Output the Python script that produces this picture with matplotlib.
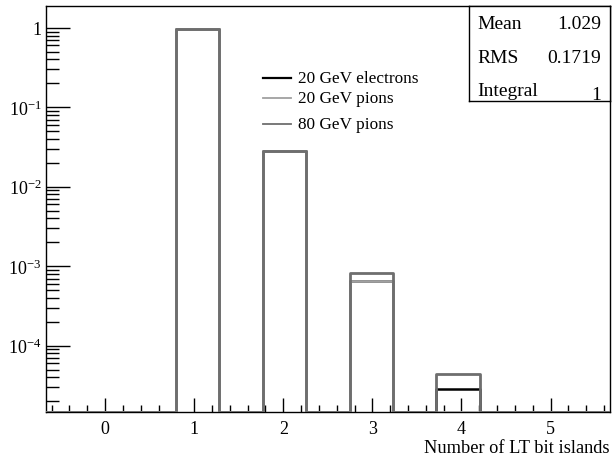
import matplotlib.pyplot as plt
import numpy as np

plt.rcParams['font.family'] = ['Liberation Serif']
plt.rcParams['mathtext.default'] = 'regular'

# 13 bins over the island-count range
edges = np.linspace(-2/3, 17/3, 14)
bins_used = [3, 5, 7, 9]          # bins holding 1, 2, 3, 4 islands

labels = ['20 GeV electrons', '20 GeV pions', '80 GeV pions']
electrons = [0.97, 0.028, 6.6e-4, 2.84e-5]
pions20 = [0.97, 0.028, 6.6e-4, 0.0]
pions80 = [0.97, 0.028, 8.2e-4, 4.4e-5]
colors = ['black', '#a0a0a0', '#6e6e6e']

ymin, ymax = 1.46e-5, 1.89

fig = plt.figure(figsize=(6.13, 4.60), dpi=100)
ax = fig.add_axes([0.0745, 0.102, 0.9205, 0.883])

def fill_bins(vals):
    h = np.zeros(len(edges) - 1)
    for b, v in zip(bins_used, vals):
        h[b] = v
    return h

draw_order = [(electrons, 0), (pions20, 1), (pions80, 2)]
for vals, k in draw_order:
    h = fill_bins(vals)
    h = np.where(h > 0, h, ymin)
    ax.step(edges, np.append(h, ymin), where='post', color=colors[k],
            lw=2.0 if k else 1.8, zorder=3)

ax.set_yscale('log')
ax.set_xlim(edges[0], edges[-1])
ax.set_ylim(ymin, ymax)

ax.set_xticks(range(6))
ax.set_xticks(np.arange(-0.6, 5.7, 0.2), minor=True)
ax.set_yticks([1e-4, 1e-3, 1e-2, 1e-1, 1])
ax.set_yticklabels([r'$10^{-4}$', r'$10^{-3}$', r'$10^{-2}$', r'$10^{-1}$', '1'])
ax.tick_params(axis='both', which='both', direction='in', top=False, right=False,
               labelsize=13, width=1.0)
ax.tick_params(axis='x', which='major', length=10, pad=6)
ax.tick_params(axis='x', which='minor', length=5)
ax.tick_params(axis='y', which='major', length=17, pad=3)
ax.tick_params(axis='y', which='minor', length=9)
for s in ax.spines.values():
    s.set_linewidth(1.0)
    s.set_zorder(2)

ax.set_xlabel('Number of LT bit islands', fontsize=13.2, loc='right', labelpad=1)

# legend, placed by hand
leg_y = [0.8227, 0.774, 0.7086]
for i in range(3):
    ax.plot([0.3855, 0.434], [leg_y[i]] * 2, color=colors[i],
            lw=1.6 if i == 0 else 1.3, transform=ax.transAxes, zorder=4)
    ax.text(0.4466, leg_y[i], labels[i], fontsize=12.4, va='center', ha='left',
            transform=ax.transAxes)

# stats box
box = ax.inset_axes([0.751, 0.766, 0.249, 0.234])
box.set_xticks([])
box.set_yticks([])
for s in box.spines.values():
    s.set_linewidth(1.0)
stats = [('Mean', '1.029'), ('RMS', '0.1719'), ('Integral', '1')]
for i, (name, val) in enumerate(stats):
    y = 0.81 - i * 0.35
    box.text(0.055, y, name, fontsize=14, va='center', ha='left', transform=box.transAxes)
    box.text(0.935, y - (0.04 if i == 2 else 0), val, fontsize=14, va='center', ha='right',
             transform=box.transAxes)

plt.savefig('out.png', dpi=100)
